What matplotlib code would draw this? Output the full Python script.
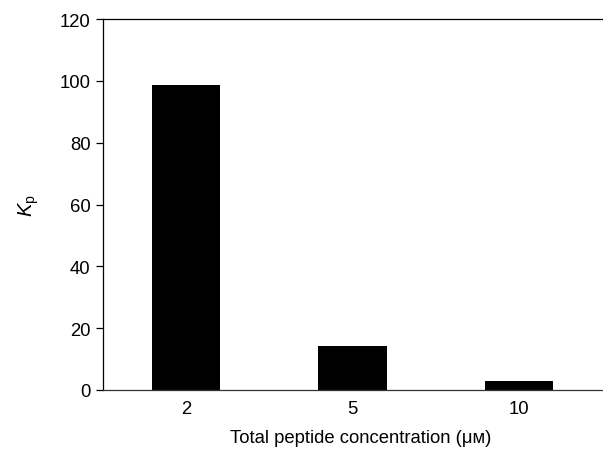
import matplotlib
matplotlib.use("Agg")
import matplotlib.pyplot as plt

categories = ["2", "5", "10"]
values = [98.5, 14.1, 2.9]
yticks = [0, 20, 40, 60, 80, 100, 120]

plt.rcParams['font.family'] = ['Liberation Sans', 'DejaVu Sans']
plt.rcParams['mathtext.fontset'] = 'custom'
plt.rcParams['mathtext.rm'] = 'Liberation Sans'
plt.rcParams['mathtext.it'] = 'Liberation Sans:italic'

fig = plt.figure(figsize=(6.03, 4.52), dpi=100)
ax = fig.add_axes([103/603, 61/452, 499/603, 371/452])

x = list(range(len(categories)))
ax.bar(x, values, width=0.41, color='black')
ax.set_xlim(-0.5, 2.5)
ax.set_ylim(0, 120)
ax.set_yticks(yticks)
ax.set_xticks(x)
ax.set_xticklabels(categories)

ax.spines['right'].set_visible(False)
for s in ['left', 'top', 'bottom']:
    ax.spines[s].set_linewidth(0.9)
ax.spines['bottom'].set_color('#333333')

ax.tick_params(axis='y', direction='out', length=5, width=0.9, labelsize=13.3, pad=4)
ax.tick_params(axis='x', length=0, labelsize=13.3, pad=7)

ax.set_ylabel(r'$K_{\mathrm{p}}$', fontsize=14.5, labelpad=13)
ax.set_xlabel('Total peptide concentration (μᴍ)', fontsize=13.3, labelpad=9)
ax.xaxis.set_label_coords(0.517, -0.105)

fig.savefig('out.png', dpi=100)
